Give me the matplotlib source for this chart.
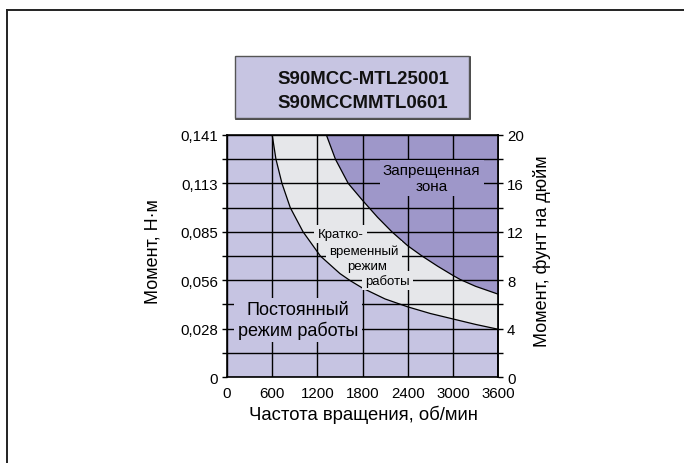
import matplotlib
matplotlib.use("Agg")
import matplotlib.pyplot as plt
import numpy as np
from matplotlib.patches import Rectangle
from matplotlib.lines import Line2D

plt.rcParams['font.family'] = ['Liberation Sans', 'DejaVu Sans']

# --- данные ---
title_lines = ['S90MCC-MTL25001', 'S90MCCMMTL0601']

rpm_ticks = [0, 600, 1200, 1800, 2400, 3000, 3600]
lbin_major = [0, 4, 8, 12, 16, 20]
lbin_minor = [2, 6, 10, 14, 18]
nm_labels = ['0', '0,028', '0,056', '0,085', '0,113', '0,141']

# граница непрерывного режима (об/мин, фунт·дюйм)
cont_rpm = [600, 650, 730, 840, 1010, 1240, 1500, 1640, 1800, 2100, 2400, 2700, 3000, 3300, 3600]
cont_lbin = [20, 18, 16, 14, 12, 10, 8.55, 7.95, 7.35, 6.45, 5.8, 5.25, 4.8, 4.35, 3.95]

# граница кратковременного режима
peak_rpm = [1320, 1440, 1610, 1800, 2000, 2190, 2400, 2590, 2800, 3000, 3100, 3300, 3600]
peak_lbin = [20, 18, 16, 14.6, 13.2, 12, 10.85, 10, 9.15, 8.4, 8.05, 7.5, 6.85]

# цвета
c_cont = '#c6c4e2'
c_peak = '#e6e7ea'
c_forb = '#9e97c9'

fig = plt.figure(figsize=(6.84, 4.64), dpi=100)

# рамка (левая и верхняя линии)
fig.add_artist(Line2D([0.0102, 0.0102], [0.0, 0.9763], transform=fig.transFigure,
                      color='#222222', lw=1.4))
fig.add_artist(Line2D([0.0102, 1.0], [0.9763, 0.9763], transform=fig.transFigure,
                      color='#222222', lw=1.4))

# заголовок в рамке (с тенью справа и снизу)
fig.add_artist(Rectangle((0.3451, 0.7413), 0.3421, 0.1336, transform=fig.transFigure,
                         facecolor='#2a2a2a', edgecolor='#2a2a2a', lw=1.2))
fig.add_artist(Rectangle((0.3436, 0.7435), 0.3421, 0.1336, transform=fig.transFigure,
                         facecolor='#c7c5e2', edgecolor='#555555', lw=1.0))
for txt, y in zip(title_lines, [0.8287, 0.7759]):
    fig.text(0.5307, y, txt, ha='center', va='center', fontsize=13.4, fontweight='bold',
             color='#111111')

ax = fig.add_axes([0.3319, 0.1853, 0.3962, 0.5216])
ax.set_facecolor(c_cont)
ax.set_xlim(0, 3600)
ax.set_ylim(0, 20)

ax.fill(np.r_[cont_rpm, 3600], np.r_[cont_lbin, 20], color=c_peak, lw=0)
ax.fill(np.r_[peak_rpm, 3600], np.r_[peak_lbin, 20], color=c_forb, lw=0)
ax.plot(cont_rpm, cont_lbin, color='black', lw=0.9)
ax.plot(peak_rpm, peak_lbin, color='black', lw=0.9)

ax.set_xticks(rpm_ticks)
ax.set_yticks(lbin_major)
ax.set_yticklabels(nm_labels)
ax.set_yticks(lbin_minor, minor=True)
ax.tick_params(axis='x', length=0, pad=6.5, labelsize=10.8)
ax.tick_params(axis='y', which='both', direction='out', length=3.6, width=1,
               left=True, right=False, pad=2.9, labelsize=10.8)

ax.set_axisbelow('line')
ax.grid(True, which='both', axis='y', color='black', lw=1)
ax.grid(True, which='major', axis='x', color='black', lw=1)
for s in ax.spines.values():
    s.set_linewidth(1.2)
    s.set_color('black')

sec = ax.secondary_yaxis('right')
sec.set_yticks(lbin_major)
sec.set_yticks(lbin_minor, minor=True)
sec.tick_params(which='both', direction='out', length=3.6, width=1, pad=2.9, labelsize=10.8)
sec.yaxis.set_minor_formatter(plt.NullFormatter())
sec.spines['right'].set_linewidth(1.2)

# подписи зон
ax.text(939, 4.71, 'Постоянный\nрежим работы', ha='center', va='center', fontsize=13,
        linespacing=1.15, bbox=dict(boxstyle='square,pad=0.2', facecolor=c_cont, edgecolor='none'))
ax.text(2719, 16.45, 'Запрещенная\nзона', ha='center', va='center', fontsize=11,
        linespacing=1.15, bbox=dict(boxstyle='square,pad=0.2', facecolor=c_forb, edgecolor='none'))

peak_words = ['Кратко-', 'временный', 'режим', 'работы']
peak_word_rpm = [1508, 1820, 1860, 2132]
peak_word_lbin = [11.82, 10.44, 9.2, 7.96]
for w, xr, yl in zip(peak_words, peak_word_rpm, peak_word_lbin):
    ax.text(xr, yl, w, ha='center', va='center', fontsize=9.5,
            bbox=dict(boxstyle='square,pad=0.25', facecolor=c_peak, edgecolor='none'))

# подписи осей
fig.text(0.2237, 0.4575, 'Момент, Н·м', rotation=90, ha='center', va='center', fontsize=13)
fig.text(0.7924, 0.459, 'Момент, фунт на дюйм', rotation=90, ha='center', va='center', fontsize=13)
fig.text(0.5307, 0.1056, 'Частота вращения, об/мин', ha='center', va='center', fontsize=13.3)

fig.savefig('out.png', dpi=100)
